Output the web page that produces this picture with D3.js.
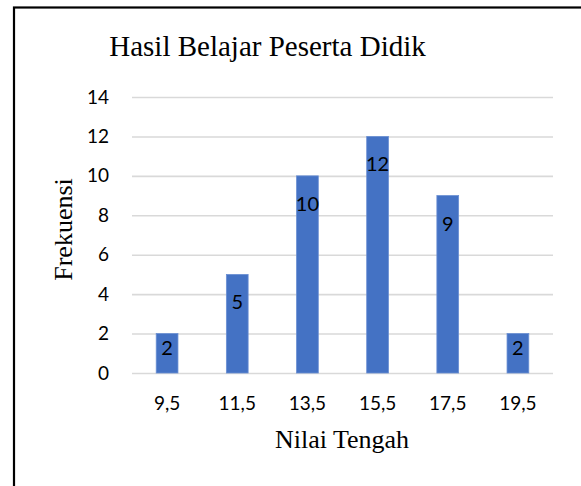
<!DOCTYPE html>
<html><head><meta charset="utf-8">
<script src="https://cdn.jsdelivr.net/npm/d3@7"></script>
<style>html,body{margin:0;padding:0;background:#fff;}svg{display:block;}</style>
</head><body>
<svg id="c" width="581" height="486"></svg>
<script>
const categories = ["9,5","11,5","13,5","15,5","17,5","19,5"];
const values = [2,5,10,12,9,2];
const yTicks = [0,2,4,6,8,10,12,14];
const title = "Hasil Belajar Peserta Didik";
const xTitle = "Nilai Tengah";
const yTitle = "Frekuensi";

const svg = d3.select("#c");
svg.append("rect").attr("x",14).attr("y",7.5).attr("width",700).attr("height",600)
  .attr("fill","none").attr("stroke","#000").attr("stroke-width",2.2);

const x = d3.scaleBand().domain(categories).range([132,553]).padding(0);
const y = d3.scaleLinear().domain([0,14]).range([373,97]);

svg.append("text").attr("x",267.5).attr("y",56).attr("text-anchor","middle")
  .attr("font-family","Liberation Serif").attr("font-size",29).attr("fill","#000").text(title);

const yAxis = d3.axisLeft(y).tickValues(yTicks).tickSize(-(553-132)).tickPadding(23).tickFormat(d3.format("d"));
const gy = svg.append("g").attr("transform","translate(132,0)").call(yAxis);
gy.select(".domain").remove();
gy.selectAll(".tick line").attr("stroke","#d9d9d9").attr("stroke-width",1.6);
gy.selectAll(".tick text").attr("font-family","Lato").attr("font-size",19).attr("fill","#000");

const xAxis = d3.axisBottom(x).tickSize(0).tickPadding(23.5);
const gx = svg.append("g").attr("transform","translate(0,373)").call(xAxis);
gx.select(".domain").remove();
gx.selectAll(".tick text").attr("font-family","Lato").attr("font-size",19).attr("fill","#000");

const bw = x.bandwidth()*0.31;
svg.selectAll("rect.bar").data(values).join("rect").attr("class","bar")
  .attr("x",(d,i)=>x(categories[i])+x.bandwidth()/2-bw/2)
  .attr("y",d=>y(d)).attr("width",bw).attr("height",d=>y(0)-y(d))
  .attr("fill","#4472C4").attr("stroke","#6a8fd3").attr("stroke-width",0.8);

svg.selectAll("text.lbl").data(values).join("text").attr("class","lbl")
  .attr("x",(d,i)=>x(categories[i])+x.bandwidth()/2)
  .attr("y",d=>Math.min(y(d)+35, y(0)-18))
  .attr("text-anchor","middle").attr("font-family","Lato").attr("font-size",20).attr("fill","#000")
  .text(d=>d);

svg.append("text").attr("x",342).attr("y",448).attr("text-anchor","middle")
  .attr("font-family","Liberation Serif").attr("font-size",26).attr("fill","#000").text(xTitle);
svg.append("text").attr("transform","translate(72,229.5) rotate(-90)").attr("text-anchor","middle")
  .attr("font-family","Liberation Serif").attr("font-size",26).attr("fill","#000").text(yTitle);
</script>
</body></html>
